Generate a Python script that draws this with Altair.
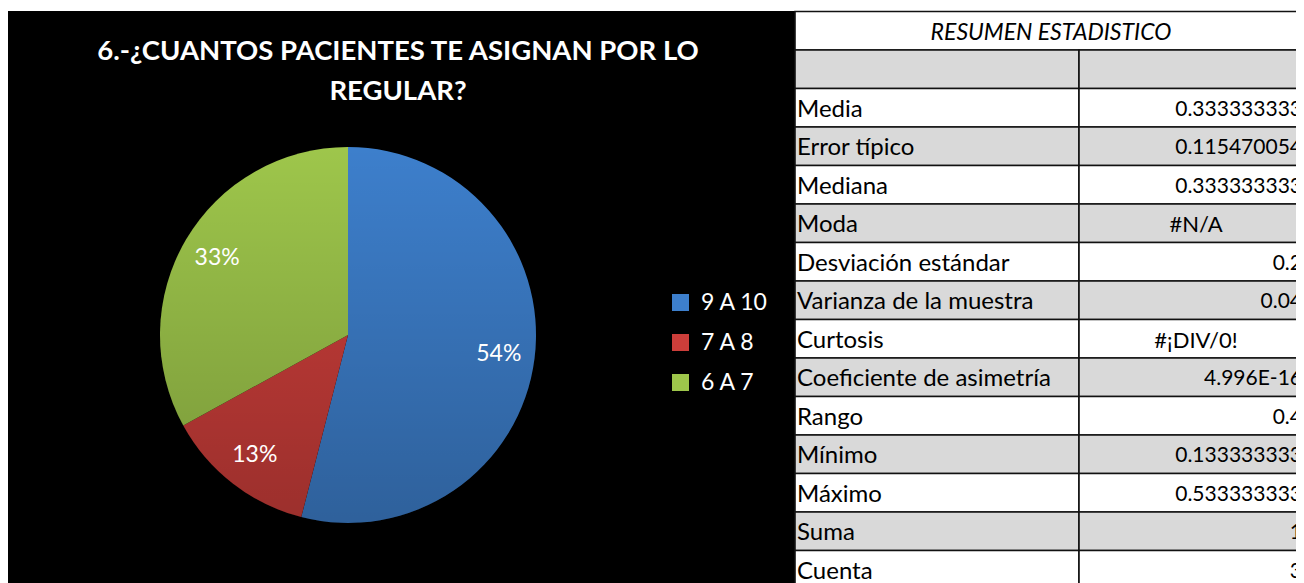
import math
import altair as alt
import pandas as pd

# ---------------- data ----------------
categories = ["9 A 10", "7 A 8", "6 A 7"]
shares = [54, 13, 33]
pie_labels = ["54%", "13%", "33%"]
slice_colors = ["#3d7fcc", "#cc3e3a", "#9ec64b"]

chart_title = "6.-¿CUANTOS PACIENTES TE ASIGNAN POR LO\nREGULAR?"
table_title = "RESUMEN ESTADISTICO"

stat_names = ["Media", "Error típico", "Mediana", "Moda", "Desviación estándar",
              "Varianza de la muestra", "Curtosis", "Coeficiente de asimetría",
              "Rango", "Mínimo", "Máximo", "Suma", "Cuenta"]
stat_values = ["0.333333333", "0.115470054", "0.333333333", "#N/A", "0.2",
               "0.04", "#¡DIV/0!", "4.996E-16", "0.4", "0.133333333",
               "0.533333333", "1", "3"]

# ---------------- layout constants (svg coords) ----------------
W, H = 1288, 575
CX, CY, R = 340, 327, 188
FONT = "Lato"

pie_df = pd.DataFrame({"cat": categories, "share": shares,
                       "label": pie_labels, "idx": list(range(len(categories)))})

rows = [{"row": 0, "name": "", "value": "", "kind": "title"},
        {"row": 1, "name": "", "value": "", "kind": "blank"}]
for i, (n, v) in enumerate(zip(stat_names, stat_values)):
    rows.append({"row": i + 2, "name": n, "value": v,
                 "kind": "err" if v.startswith("#") else "num"})
tab_df = pd.DataFrame(rows)
n_rows = len(tab_df)
ROW_H = 38.5
TOP = 3.5

one = pd.DataFrame({"a": [0]})

# black chart background
bg = alt.Chart(one).mark_rect(color="black").encode(
    x=alt.value(0), x2=alt.value(787), y=alt.value(3), y2=alt.value(H))

title = alt.Chart(one).mark_text(
    text=chart_title, lineBreak="\n", lineHeight=40, font=FONT, fontWeight="bold",
    fontSize=27.5, color="white", align="center", baseline="middle").encode(
    x=alt.value(390), y=alt.value(44))

theta = alt.Theta("share:Q", stack=True)
order = alt.Order("idx:Q")

pie = alt.Chart(pie_df).mark_arc(outerRadius=R, strokeWidth=0).encode(
    theta=theta, order=order,
    color=alt.Color("cat:N", sort=categories,
                    scale=alt.Scale(domain=categories, range=slice_colors),
                    legend=alt.Legend(title=None, orient="none", legendX=661, legendY=283,
                                      symbolType="square", symbolSize=289,
                                      symbolStrokeWidth=0, labelFontSize=23,
                                      labelFont=FONT, labelColor="white",
                                      labelOffset=9, rowPadding=16, padding=0)),
    x=alt.value(CX), y=alt.value(CY))

shade = alt.Chart(one).mark_arc(
    outerRadius=R, theta=0, theta2=2 * math.pi,
    fill=alt.LinearGradient(gradient="linear",
                            stops=[alt.GradientStop(color="rgba(0,0,0,0)", offset=0),
                                   alt.GradientStop(color="rgba(0,0,0,0.24)", offset=1)],
                            x1=0, x2=0, y1=0, y2=1)).encode(
    x=alt.value(CX), y=alt.value(CY))

pie_text = alt.Chart(pie_df).mark_text(radius=152, font=FONT, fontSize=23,
                                       color="white", align="center",
                                       baseline="middle").encode(
    theta=theta, order=order, detail="cat:N", text="label:N",
    x=alt.value(CX), y=alt.value(CY))

# ---------------- table ----------------
yrow = alt.Y("row:O", axis=None,
             scale=alt.Scale(domain=list(range(n_rows)),
                             range=[TOP, TOP + n_rows * ROW_H],
                             paddingInner=0, paddingOuter=0))
tab = alt.Chart(tab_df).transform_calculate(shade="datum.row % 2")
fill = alt.condition("datum.shade == 1", alt.value("#d9d9d9"), alt.value("white"))

cell_title = tab.transform_filter("datum.row == 0").mark_rect(
    stroke="#111", strokeWidth=1.6).encode(
    y=yrow, x=alt.value(787), x2=alt.value(1330), fill=alt.value("white"))
cell_name = tab.transform_filter("datum.row >= 1").mark_rect(
    stroke="#111", strokeWidth=1.6).encode(
    y=yrow, x=alt.value(787), x2=alt.value(1071), fill=fill)
cell_val = tab.transform_filter("datum.row >= 1").mark_rect(
    stroke="#111", strokeWidth=1.6).encode(
    y=yrow, x=alt.value(1071), x2=alt.value(1330), fill=fill)

txt_title = tab.transform_filter("datum.row == 0").mark_text(
    text=table_title, font=FONT, fontStyle="italic", fontSize=23, color="black",
    align="center", baseline="middle", dy=2).encode(y=yrow, x=alt.value(1043))
txt_name = tab.transform_filter("datum.row >= 2").mark_text(
    font=FONT, fontSize=24, color="black", align="left", baseline="middle",
    dy=2).encode(y=yrow, x=alt.value(789), text="name:N")
txt_num = tab.transform_filter("datum.kind == 'num'").mark_text(
    font=FONT, fontSize=21, color="black", align="right", baseline="middle",
    dy=2).encode(y=yrow, x=alt.value(1294), text="value:N")
txt_err = tab.transform_filter("datum.kind == 'err'").mark_text(
    font=FONT, fontSize=22, color="black", align="center", baseline="middle",
    dy=2).encode(y=yrow, x=alt.value(1188), text="value:N")

chart = alt.layer(
    bg, title, pie, shade, pie_text,
    cell_title, cell_name, cell_val, txt_title, txt_name, txt_num, txt_err
).properties(width=W, height=H, autosize="none", padding=0
).configure_view(strokeWidth=0)

chart.save("out.html", embed_options={"renderer": "svg", "actions": False})
